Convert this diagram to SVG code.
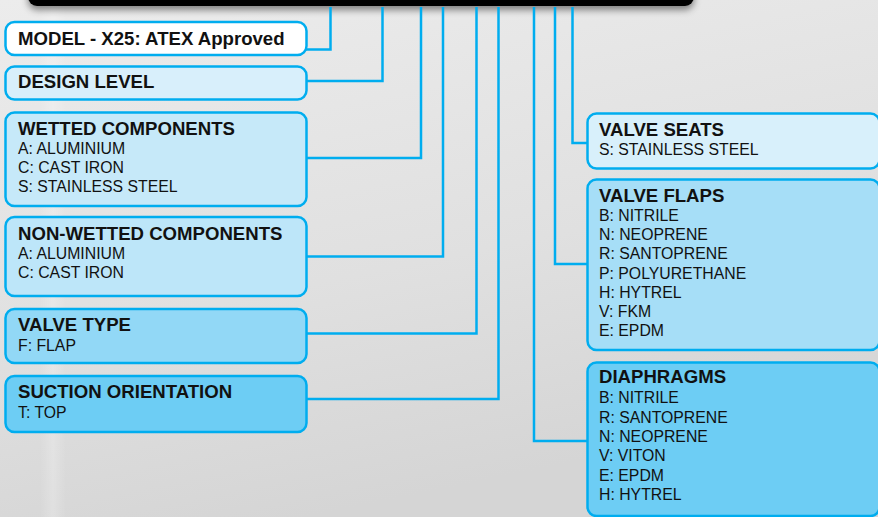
<svg xmlns="http://www.w3.org/2000/svg" width="878" height="517" viewBox="0 0 878 517">
<defs>
<linearGradient id="bg" x1="0" y1="0" x2="0.35" y2="1">
<stop offset="0" stop-color="#ececec"/>
<stop offset="0.6" stop-color="#e0e0e0"/>
<stop offset="1" stop-color="#d5d5d5"/>
</linearGradient>
<linearGradient id="streak" x1="0" y1="0" x2="1" y2="0">
<stop offset="0" stop-color="#ffffff" stop-opacity="0"/>
<stop offset="0.5" stop-color="#ffffff" stop-opacity="0.22"/>
<stop offset="1" stop-color="#ffffff" stop-opacity="0"/>
</linearGradient>
<filter id="shadow" x="-5%" y="-100%" width="110%" height="400%">
<feDropShadow dx="0" dy="4" stdDeviation="3.5" flood-color="#000" flood-opacity="0.45"/>
</filter>
</defs>
<style>
.box{stroke:#00adef;stroke-width:2.5}
.con{fill:none;stroke:#00adef;stroke-width:2.5}
.t{font-family:"Liberation Sans",Arial,sans-serif;font-weight:bold;font-size:18.6px;fill:#111}
.i{font-family:"Liberation Sans",Arial,sans-serif;font-size:15.8px;fill:#111}
</style>
<rect x="0" y="0" width="878" height="517" fill="url(#bg)"/>
<rect x="40" y="0" width="26" height="517" fill="url(#streak)"/>
<rect x="28" y="-20" width="666" height="26" rx="9" fill="#000" filter="url(#shadow)"/>
<g id="connectors">
<polyline class="con" points="330.5,7 330.5,49.5 306,49.5"/>
<polyline class="con" points="382.5,7 382.5,81 306,81"/>
<polyline class="con" points="421,7 421,158 306,158"/>
<polyline class="con" points="443,7 443,256.5 306,256.5"/>
<polyline class="con" points="476.5,7 476.5,333.5 306,333.5"/>
<polyline class="con" points="498.5,7 498.5,399 306,399"/>
<polyline class="con" points="534,7 534,441 588,441"/>
<polyline class="con" points="555,7 555,264 588,264"/>
<polyline class="con" points="572.5,7 572.5,143 588,143"/>
</g>
<g id="model">
<rect class="box" x="5.5" y="22" width="301" height="33" rx="9" fill="#ffffff"/>
<text class="t" x="18" y="45">MODEL - X25: ATEX Approved</text>
</g>
<g id="design-level">
<rect class="box" x="5.5" y="66.5" width="301" height="33" rx="9" fill="#d8effb"/>
<text class="t" x="18" y="88">DESIGN LEVEL</text>
</g>
<g id="wetted">
<rect class="box" x="5.5" y="112.5" width="301" height="93.5" rx="9" fill="#c6e9f9"/>
<text class="t" x="18" y="134.5">WETTED COMPONENTS</text>
<text class="i" x="18" y="154.3">A: ALUMINIUM</text>
<text class="i" x="18" y="173.3">C: CAST IRON</text>
<text class="i" x="18" y="192.3">S: STAINLESS STEEL</text>
</g>
<g id="non-wetted">
<rect class="box" x="5.5" y="217" width="301" height="79" rx="9" fill="#bde6f9"/>
<text class="t" x="18" y="239.5">NON-WETTED COMPONENTS</text>
<text class="i" x="18" y="258.5">A: ALUMINIUM</text>
<text class="i" x="18" y="277.7">C: CAST IRON</text>
</g>
<g id="valve-type">
<rect class="box" x="5.5" y="309" width="301" height="54" rx="9" fill="#92d8f6"/>
<text class="t" x="18" y="331">VALVE TYPE</text>
<text class="i" x="18" y="351">F: FLAP</text>
</g>
<g id="suction">
<rect class="box" x="5.5" y="376" width="301" height="56" rx="9" fill="#6dcdf4"/>
<text class="t" x="18" y="398.3">SUCTION ORIENTATION</text>
<text class="i" x="18" y="418.3">T: TOP</text>
</g>
<g id="valve-seats">
<rect class="box" x="587.5" y="113.5" width="292" height="55" rx="9" fill="#d8f0fb"/>
<text class="t" x="599" y="136">VALVE SEATS</text>
<text class="i" x="599" y="155">S: STAINLESS STEEL</text>
</g>
<g id="valve-flaps">
<rect class="box" x="587.5" y="179.5" width="292" height="170.5" rx="9" fill="#a6def7"/>
<text class="t" x="599" y="201.7">VALVE FLAPS</text>
<text class="i" x="599" y="220.7">B: NITRILE</text>
<text class="i" x="599" y="240">N: NEOPRENE</text>
<text class="i" x="599" y="259.3">R: SANTOPRENE</text>
<text class="i" x="599" y="278.7">P: POLYURETHANE</text>
<text class="i" x="599" y="297.7">H: HYTREL</text>
<text class="i" x="599" y="316.7">V: FKM</text>
<text class="i" x="599" y="335.7">E: EPDM</text>
</g>
<g id="diaphragms">
<rect class="box" x="587.5" y="362.5" width="292" height="153.5" rx="9" fill="#6dcdf4"/>
<text class="t" x="599" y="383.3">DIAPHRAGMS</text>
<text class="i" x="599" y="403.3">B: NITRILE</text>
<text class="i" x="599" y="422.7">R: SANTOPRENE</text>
<text class="i" x="599" y="441.7">N: NEOPRENE</text>
<text class="i" x="599" y="461">V: VITON</text>
<text class="i" x="599" y="480.5">E: EPDM</text>
<text class="i" x="599" y="499.5">H: HYTREL</text>
</g>
</svg>
